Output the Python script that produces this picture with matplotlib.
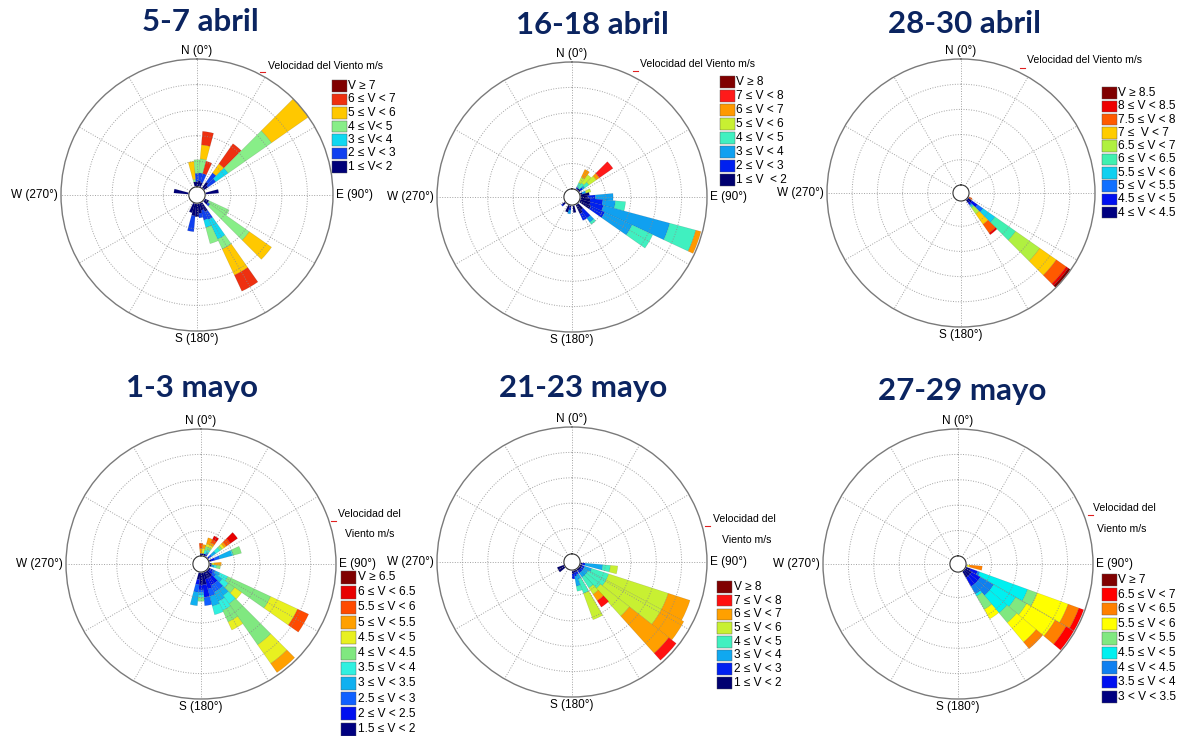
import numpy as np
import matplotlib
matplotlib.use('Agg')
import matplotlib.pyplot as plt
from matplotlib.patches import Rectangle
from matplotlib.lines import Line2D

W, H = 1183, 736
plt.rcParams['font.family'] = ['Liberation Sans', 'DejaVu Sans']

# radial scale: hole of 0.32 units, then 5 ring units to the outer circle
HOLE = 0.32
RMAX = HOLE + 5

titles = ['5-7 abril', '16-18 abril', '28-30 abril', '1-3 mayo', '21-23 mayo', '27-29 mayo']

# ---- 5-7 abril ----
labels1 = ['1 ≤ V< 2', '2 ≤ V < 3', '3 ≤ V< 4', '4 ≤ V< 5', '5 ≤ V < 6', '6 ≤ V < 7', 'V ≥ 7']
colors1 = ['#000078', '#1040f0', '#10d8f0', '#88ee88', '#ffc800', '#ee3010', '#800000']
dirs1 = [350, 0, 10, 20, 40, 50, 80, 120, 130, 150, 160, 170, 180, 190, 200, 280]
segs1 = [[0.2, 0, 0, 0.1, 0.7, 0, 0],
         [0.2, 0.33, 0, 0.53, 0, 0, 0],
         [0.25, 0.3, 0, 0.55, 0.55, 0.53, 0],
         [0.2, 0.35, 0, 0, 0, 0.5, 0],
         [0.3, 0.44, 0, 0, 0.43, 0.96, 0],
         [0.21, 0.37, 0.59, 2.07, 1.76, 0, 0],
         [0.53, 0, 0, 0, 0, 0, 0],
         [0.2, 0, 0, 0.87, 0, 0, 0],
         [0.2, 0.1, 0, 1.88, 1.06, 0, 0],
         [0.4, 0.34, 0.85, 0.43, 1.12, 0.69, 0],
         [0.3, 0.4, 0.3, 0.65, 0, 0, 0],
         [0.4, 0.18, 0, 0, 0, 0, 0],
         [0.53, 0, 0, 0, 0, 0, 0],
         [0.5, 0.62, 0, 0, 0, 0, 0],
         [0.4, 0, 0, 0, 0, 0, 0],
         [0.59, 0, 0, 0, 0, 0, 0]]

# ---- 16-18 abril ----
labels2 = ['1 ≤ V  < 2', '2 ≤ V < 3', '3 ≤ V < 4', '4 ≤ V < 5', '5 ≤ V < 6', '6 ≤ V < 7', '7 ≤ V < 8', 'V ≥ 8']
colors2 = ['#000070', '#0020f0', '#10a0f0', '#40f0c0', '#c8f032', '#ff9900', '#ff1a1a', '#800000']
dirs2 = [30, 40, 50, 70, 80, 90, 100, 110, 120, 140, 150, 170, 190, 200, 230]
segs2 = [[0.05, 0.05, 0.05, 0.15, 0.25, 0.33, 0, 0],
         [0.1, 0, 0, 0.25, 0.4, 0, 0, 0],
         [0.1, 0.1, 0.1, 0.2, 0.35, 0.15, 0.65, 0],
         [0.1, 0, 0.15, 0, 0.2, 0, 0, 0],
         [0.37, 0, 0, 0, 0, 0, 0, 0],
         [0.3, 0.3, 0.7, 0, 0, 0, 0, 0],
         [0.4, 0.5, 0.5, 0.4, 0, 0, 0, 0],
         [0.43, 0.53, 2.71, 1.06, 0, 0.21, 0, 0],
         [0.5, 0.6, 1.19, 0.9, 0, 0, 0, 0],
         [0.3, 0.4, 0.2, 0.1, 0, 0, 0, 0],
         [0.4, 0.3, 0, 0, 0, 0, 0, 0],
         [0.3, 0, 0, 0, 0, 0, 0, 0],
         [0.1, 0.1, 0.15, 0, 0, 0, 0, 0],
         [0.3, 0, 0, 0, 0, 0, 0, 0],
         [0.15, 0.05, 0, 0, 0, 0, 0, 0]]

# ---- 28-30 abril ----
labels3 = ['4 ≤ V < 4.5', '4.5 ≤ V < 5', '5 ≤ V < 5.5', '5.5 ≤ V < 6', '6 ≤ V < 6.5',
           '6.5 ≤ V < 7', '7 ≤  V < 7', '7.5 ≤ V < 8', '8 ≤ V < 8.5', 'V ≥ 8.5']
colors3 = ['#000080', '#0010f0', '#1070ff', '#10d0f0', '#40f0b0',
           '#b0f040', '#ffcc00', '#ff5a00', '#ee0000', '#800000']
dirs3 = [120, 130, 140]
segs3 = [[0.05, 0, 0, 0, 0, 0, 0, 0.12, 0, 0],
         [0.21, 0.27, 0.27, 0.58, 1.0, 1.17, 0.8, 0.48, 0.1, 0.1],
         [0.15, 0.1, 0.05, 0.05, 0.05, 0.3, 0.5, 0.42, 0.08, 0]]

# ---- 1-3 mayo ----
labels4 = ['1.5 ≤ V < 2', '2 ≤ V < 2.5', '2.5 ≤ V < 3', '3 ≤ V < 3.5', '3.5 ≤ V < 4', '4 ≤ V < 4.5',
           '4.5 ≤ V < 5', '5 ≤ V < 5.5', '5.5 ≤ V < 6', '6 ≤ V < 6.5', 'V ≥ 6.5']
colors4 = ['#000080', '#0010f0', '#1060ff', '#10b0f0', '#30f0e0', '#80e880',
           '#e8f020', '#ffa000', '#ff4a00', '#e80000', '#800000']
dirs4 = [0, 10, 20, 30, 50, 70, 90, 100, 120, 130, 140, 150, 160, 170, 180, 190]
segs4 = [[0.1, 0, 0, 0, 0, 0, 0, 0.2, 0.2, 0, 0],
         [0.1, 0, 0, 0, 0, 0, 0.2, 0.15, 0, 0, 0],
         [0.1, 0, 0, 0, 0.15, 0.15, 0.1, 0.25, 0, 0, 0],
         [0.05, 0.05, 0.05, 0.05, 0.1, 0.1, 0.1, 0.1, 0.15, 0.15, 0],
         [0.05, 0.05, 0.1, 0.2, 0.2, 0.1, 0.1, 0.1, 0.2, 0.34, 0],
         [0.1, 0.15, 0.2, 0.5, 0.05, 0.33, 0, 0, 0, 0, 0],
         [0.1, 0, 0, 0, 0, 0, 0.1, 0.28, 0, 0, 0],
         [0.1, 0, 0, 0.1, 0.1, 0.15, 0, 0, 0, 0, 0],
         [0.1, 0.1, 0.1, 0.2, 0.35, 1.86, 1.17, 0, 0.48, 0, 0],
         [0.1, 0.15, 0.15, 0.3, 0.3, 0.3, 0.34, 0, 0, 0, 0],
         [0.3, 0.3, 0.3, 0.3, 0.4, 1.97, 0.9, 0.43, 0, 0, 0],
         [0.3, 0.3, 0.3, 0.4, 0.4, 0.5, 0.35, 0, 0, 0, 0],
         [0.3, 0.4, 0.3, 0.4, 0.35, 0, 0, 0, 0, 0, 0],
         [0.5, 0.5, 0.33, 0, 0, 0, 0, 0, 0, 0, 0],
         [0.5, 0.2, 0.1, 0.1, 0.1, 0.15, 0, 0, 0, 0, 0],
         [0.3, 0.2, 0.3, 0.53, 0, 0, 0, 0, 0, 0, 0]]

# ---- 21-23 mayo ----
labels5 = ['1 ≤ V < 2', '2 ≤ V < 3', '3 ≤ V < 4', '4 ≤ V < 5', '5 ≤ V < 6', '6 ≤ V < 7', '7 ≤ V < 8', 'V ≥ 8']
colors5 = ['#000070', '#0020f0', '#10a8f0', '#40f0c0', '#c8f032', '#ffa000', '#ff1010', '#800000']
dirs5 = [100, 113, 123, 133, 142, 155, 165, 175, 235, 245]
segs5 = [[0.1, 0.1, 0.7, 0.3, 0.29, 0, 0, 0],
         [0.1, 0.1, 0.3, 0.7, 2.47, 0.9, 0, 0],
         [0.1, 0.1, 0.2, 0.8, 2.47, 1.0, 0, 0],
         [0.1, 0.1, 0.2, 0.7, 1.45, 1.97, 0.37, 0],
         [0.1, 0.1, 0.2, 0.5, 0.3, 0.3, 0.3, 0],
         [0.1, 0.1, 0.2, 0.6, 1.1, 0, 0, 0],
         [0.1, 0.15, 0.4, 0.2, 0, 0, 0, 0],
         [0.15, 0.2, 0, 0, 0, 0, 0, 0],
         [0.3, 0, 0, 0, 0, 0, 0, 0],
         [0.3, 0, 0, 0, 0, 0, 0, 0]]

# ---- 27-29 mayo ----
labels6 = ['3 < V < 3.5', '3.5 ≤ V < 4', '4 ≤ V < 4.5', '4.5 ≤ V < 5', '5 ≤ V < 5.5',
           '5.5 ≤ V < 6', '6 ≤ V < 6.5', '6.5 ≤ V < 7', 'V ≥ 7']
colors6 = ['#000080', '#0010f0', '#1080f0', '#00f0f0', '#80e880',
           '#ffff00', '#ff8000', '#ff0000', '#800000']
dirs6 = [100, 115, 125, 135, 145]
segs6 = [[0.05, 0, 0, 0, 0, 0.09, 0.5, 0, 0],
         [0.2, 0.3, 0.1, 2.0, 0.4, 1.3, 0.45, 0.2, 0],
         [0.3, 0.4, 0.6, 1.0, 0.5, 1.3, 0.5, 0.35, 0],
         [0.3, 0.4, 0.6, 0.9, 0.5, 1.0, 0.34, 0, 0],
         [0.3, 0.4, 0.35, 0.1, 0.6, 0.43, 0, 0, 0]]

fig = plt.figure(figsize=(W / 100, H / 100), dpi=100)
fig.patch.set_facecolor('white')


def fx(x):
    return x / W


def fy(y):
    return 1 - y / H


def draw_rose(cx, cy, R, dirs, segs, colors, show_e=True):
    ax = fig.add_axes([fx(cx - R), fy(cy + R), 2 * R / W, 2 * R / H], projection='polar')
    ax.set_theta_zero_location('N')
    ax.set_theta_direction(-1)
    ax.set_ylim(0, RMAX)
    ax.set_xticks([])
    ax.set_yticks([])
    ax.grid(False)
    ax.spines['polar'].set_color('#7a7a7a')
    ax.spines['polar'].set_linewidth(1.0)
    wd = np.deg2rad(10)
    for d, s in zip(dirs, segs):
        bottom = HOLE
        for k, h in enumerate(s):
            if h > 0:
                ax.bar(np.deg2rad(d), h, width=wd, bottom=bottom, color=colors[k],
                       edgecolor=(0, 0, 0, 0.15), linewidth=0.4, zorder=2)
            bottom += h
    t = np.linspace(0, 2 * np.pi, 361)
    for r in [HOLE + 1, HOLE + 2, HOLE + 3, HOLE + 4]:
        ax.plot(t, np.full_like(t, r), color='#8c8c8c', lw=0.7, ls=(0, (1, 1.6)), alpha=0.8, zorder=3)
    for a in range(0, 360, 30):
        ax.plot([np.deg2rad(a)] * 2, [HOLE, RMAX], color='#8c8c8c', lw=0.7,
                ls=(0, (1, 1.6)), alpha=0.8, zorder=3)
    ax.fill(t, np.full_like(t, HOLE), color='white', zorder=4)
    ax.plot(t, np.full_like(t, HOLE), color='#333333', lw=0.8, zorder=5)
    fs = 8.5
    ax.text(0.5, 1.008, 'N (0°)', transform=ax.transAxes, ha='center', va='bottom', fontsize=fs)
    ax.text(0.5, -0.008, 'S (180°)', transform=ax.transAxes, ha='center', va='top', fontsize=fs)
    # the E label of 28-30 abril sits under its legend in the original
    if show_e:
        ax.text(1.01, 0.5, 'E (90°)', transform=ax.transAxes, ha='left', va='center', fontsize=fs)
    ax.text(-0.012, 0.5, 'W (270°)', transform=ax.transAxes, ha='right', va='center', fontsize=fs)
    return ax


def draw_legend(x0, y0, dy, labels, colors, bw=15, bh=11.5, fs=8.6):
    # top entry is the highest speed class
    for i, (lab, col) in enumerate(zip(labels[::-1], colors[::-1])):
        yc = y0 + i * dy
        fig.patches.append(Rectangle((fx(x0), fy(yc + bh / 2)), bw / W, bh / H,
                                     transform=fig.transFigure, facecolor=col,
                                     edgecolor='#555555', linewidth=0.3, zorder=2))
        fig.text(fx(x0 + bw + 1.5), fy(yc), lab, ha='left', va='center', fontsize=fs, zorder=3)


def red_mark(x, y):
    fig.lines.append(Line2D([fx(x), fx(x + 5)], [fy(y), fy(y)], transform=fig.transFigure,
                            color='#e02020', lw=0.8))


draw_rose(197, 195, 136, dirs1, segs1, colors1)
draw_rose(572, 197, 135, dirs2, segs2, colors2)
draw_rose(961, 193, 134, dirs3, segs3, colors3, show_e=False)
draw_rose(201, 564, 135, dirs4, segs4, colors4)
draw_rose(572, 562, 135, dirs5, segs5, colors5)
draw_rose(958, 564, 135, dirs6, segs6, colors6)

title_pos = [(200, 22), (592, 25), (965, 24), (192, 388), (583, 388), (962, 391)]
for t, (x, y) in zip(titles, title_pos):
    fig.text(fx(x), fy(y), t, ha='center', va='center', fontsize=22.5,
             fontweight='bold', color='#0b2460', family=['Lato', 'DejaVu Sans'])

tfs = 7.6
fig.text(fx(268), fy(66), 'Velocidad del Viento m/s', ha='left', va='center', fontsize=tfs)
fig.text(fx(640), fy(64), 'Velocidad del Viento m/s', ha='left', va='center', fontsize=tfs)
fig.text(fx(1027), fy(60), 'Velocidad del Viento m/s', ha='left', va='center', fontsize=tfs)
fig.text(fx(338), fy(514), 'Velocidad del', ha='left', va='center', fontsize=tfs)
fig.text(fx(345), fy(534), 'Viento m/s', ha='left', va='center', fontsize=tfs)
fig.text(fx(713), fy(519), 'Velocidad del', ha='left', va='center', fontsize=tfs)
fig.text(fx(722), fy(540), 'Viento m/s', ha='left', va='center', fontsize=tfs)
fig.text(fx(1093), fy(508), 'Velocidad del', ha='left', va='center', fontsize=tfs)
fig.text(fx(1097), fy(529), 'Viento m/s', ha='left', va='center', fontsize=tfs)

for x, y in [(260, 72), (633, 71), (1020, 68), (331, 521), (705, 526), (1088, 515)]:
    red_mark(x, y)

draw_legend(332, 86, 13.5, labels1, colors1)
draw_legend(720, 82, 14, labels2, colors2)
draw_legend(1102, 93, 13.3, labels3, colors3)
draw_legend(341, 577, 15.2, labels4, colors4, bh=13)
draw_legend(717, 587, 13.7, labels5, colors5)
draw_legend(1102, 580, 14.6, labels6, colors6, bh=12.5)

fig.savefig('out.png', dpi=100, facecolor='white')
